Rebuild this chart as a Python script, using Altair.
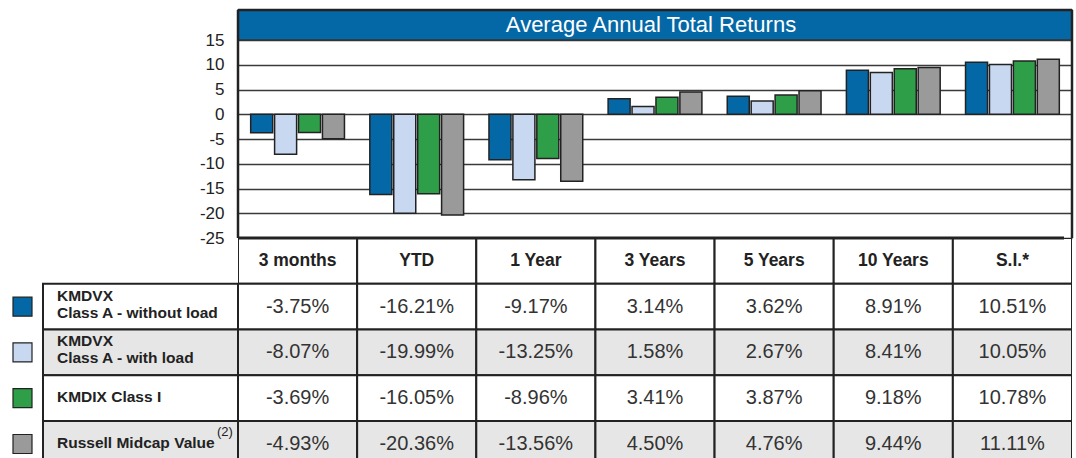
import altair as alt
import pandas as pd

# ---------------- data ----------------
categories = ["3 months", "YTD", "1 Year", "3 Years", "5 Years", "10 Years", "S.I.*"]
series = ["KMDVX Class A - without load", "KMDVX Class A - with load",
          "KMDIX Class I", "Russell Midcap Value"]
series_labels = ["KMDVX\nClass A - without load", "KMDVX\nClass A - with load",
                 "KMDIX Class I", "Russell Midcap Value"]
series_notes = ["", "", "", "(2)"]
without_load = [-3.75, -16.21, -9.17, 3.14, 3.62, 8.91, 10.51]
with_load = [-8.07, -19.99, -13.25, 1.58, 2.67, 8.41, 10.05]
class_i = [-3.69, -16.05, -8.96, 3.41, 3.87, 9.18, 10.78]
russell = [-4.93, -20.36, -13.56, 4.50, 4.76, 9.44, 11.11]
y_ticks = [15, 10, 5, 0, -5, -10, -15, -20, -25]
title_text = "Average Annual Total Returns"
colors = ["#0568A6", "#C8D8F1", "#2F9E48", "#9A9A9A"]

# ---------------- layout constants ----------------
FONT = "Liberation Sans"
PLOT_W = 834
BAR_H = 228
TITLE_H = 30
LABEL_W = 238
TABLE_H = 222
Y_MIN, Y_MAX_TICK = -25, 15
px_per_unit = (BAR_H - TITLE_H) / (Y_MAX_TICK - Y_MIN)
Y_TOP = Y_MAX_TICK + TITLE_H / px_per_unit
DARK = "#222222"

values = [without_load, with_load, class_i, russell]
bars_df = pd.DataFrame(
    [{"cat": c, "series": s, "value": v}
     for s, vals in zip(series, values) for c, v in zip(categories, vals)]
)
cells = [{"cat": c, "r": 0, "text": c} for c in categories]
for i, vals in enumerate(values):
    for c, v in zip(categories, vals):
        cells.append({"cat": c, "r": i + 1, "text": f"{v:.2f}%"})
cells_df = pd.DataFrame(cells)
labels_df = pd.DataFrame(
    [{"series": s, "label": l, "note": n, "r": i + 1}
     for i, (s, l, n) in enumerate(zip(series, series_labels, series_notes))]
)
title_df = pd.DataFrame({"t": [title_text]})

color_scale = alt.Scale(domain=series, range=colors)
x_band = alt.X("cat:N", sort=categories, scale=alt.Scale(paddingInner=0, paddingOuter=0), axis=None)
row_scale = alt.Scale(domain=[0, 4.85], reverse=True, nice=False, zero=False)
gray_row = alt.condition("datum.r == 2 || datum.r == 4", alt.value("#E6E6E6"), alt.value("#FFFFFF"))

# ---------------- top-left blank ----------------
blank = alt.Chart(pd.DataFrame({"t": [""]})).mark_text().encode(text="t:N").properties(
    width=LABEL_W, height=BAR_H)

# ---------------- bar chart ----------------
bars = alt.Chart(bars_df).mark_bar(stroke=DARK, strokeWidth=1.5).encode(
    x=x_band,
    xOffset=alt.XOffset("series:N", sort=series,
                        scale=alt.Scale(paddingInner=0.08, paddingOuter=0.53)),
    y=alt.Y("value:Q", stack=None,
            scale=alt.Scale(domain=[Y_MIN, Y_TOP], nice=False, zero=False),
            axis=alt.Axis(values=y_ticks, grid=True, gridColor="#3a3a3a", gridWidth=1.5,
                          domain=False, ticks=False, labelExpr="'' + datum.value",
                          labelFontSize=17, labelColor=DARK, labelPadding=14,
                          labelFont=FONT, title=None)),
    y2=alt.datum(0),
    color=alt.Color("series:N", scale=color_scale, legend=None),
)
title_bar = alt.Chart(title_df).mark_rect(fill="#0568A6", stroke="#333333", strokeWidth=1.5).encode(
    x=alt.value(0), x2=alt.value(PLOT_W), y=alt.value(0), y2=alt.value(TITLE_H))
title_txt = alt.Chart(title_df).mark_text(color="white", fontSize=22, font=FONT,
                                          baseline="middle", align="center").encode(
    x=alt.value(PLOT_W / 2 - 4), y=alt.value(TITLE_H / 2), text="t:N")
border_l = alt.Chart(title_df).mark_rule(color=DARK, strokeWidth=2.5).encode(
    x=alt.value(0), y=alt.value(0), y2=alt.value(BAR_H))
border_r = alt.Chart(title_df).mark_rule(color=DARK, strokeWidth=2.5).encode(
    x=alt.value(PLOT_W), y=alt.value(0), y2=alt.value(BAR_H))
border_t = alt.Chart(title_df).mark_rule(color=DARK, strokeWidth=2.5).encode(
    x=alt.value(0), x2=alt.value(PLOT_W), y=alt.value(0))
bar_chart = alt.layer(bars, title_bar, title_txt, border_l, border_r, border_t).properties(
    width=PLOT_W, height=BAR_H)

# ---------------- label column ----------------
lab_base = alt.Chart(labels_df).transform_calculate(r2="datum.r + 1", rm="datum.r + 0.5")
lab_rect = lab_base.mark_rect(stroke=DARK, strokeWidth=2, clip=True).encode(
    x=alt.value(43), x2=alt.value(LABEL_W),
    y=alt.Y("r:Q", scale=row_scale, axis=None), y2="r2:Q", fill=gray_row)
lab_sq = lab_base.mark_square(size=361, stroke=DARK, strokeWidth=1.2, opacity=1).encode(
    x=alt.value(22.5), y=alt.Y("rm:Q", scale=row_scale, axis=None),
    color=alt.Color("series:N", scale=color_scale, legend=None))
txt_style = dict(align="left", baseline="middle", lineBreak="\n", fontWeight="bold",
                 fontSize=15.5, lineHeight=17, font=FONT, color=DARK)
lab_txt2 = lab_base.transform_filter("indexof(datum.label, '\\n') >= 0").mark_text(
    dy=-11, **txt_style).encode(
    x=alt.value(57), y=alt.Y("rm:Q", scale=row_scale, axis=None), text="label:N")
lab_txt1 = lab_base.transform_filter("indexof(datum.label, '\\n') < 0").mark_text(
    dy=-1, **txt_style).encode(
    x=alt.value(57), y=alt.Y("rm:Q", scale=row_scale, axis=None), text="label:N")
lab_note = lab_base.transform_filter("datum.note != ''").mark_text(
    align="left", baseline="middle", fontSize=13, font=FONT, color=DARK, dy=-12).encode(
    x=alt.value(217), y=alt.Y("rm:Q", scale=row_scale, axis=None), text="note:N")
label_chart = alt.layer(lab_rect, lab_sq, lab_txt2, lab_txt1, lab_note).properties(
    width=LABEL_W, height=TABLE_H)

# ---------------- table ----------------
cell_base = alt.Chart(cells_df).transform_calculate(r2="datum.r + 1", rm="datum.r + 0.5")
cell_rect = cell_base.mark_rect(stroke=DARK, strokeWidth=2, clip=True).encode(
    x=x_band, y=alt.Y("r:Q", scale=row_scale, axis=None), y2="r2:Q", fill=gray_row)
head_txt = cell_base.transform_filter("datum.r == 0").mark_text(
    fontSize=17.5, fontWeight="bold", font=FONT, color=DARK, baseline="middle").encode(
    x=x_band, y=alt.Y("rm:Q", scale=row_scale, axis=None), text="text:N")
val_txt = cell_base.transform_filter("datum.r > 0").mark_text(
    fontSize=20, font=FONT, color="#333333", baseline="middle").encode(
    x=x_band, y=alt.Y("rm:Q", scale=row_scale, axis=None), text="text:N")
top_rule = alt.Chart(title_df).mark_rule(color=DARK, strokeWidth=3).encode(
    x=alt.value(0), x2=alt.value(PLOT_W - 8), y=alt.value(0))
table_chart = alt.layer(cell_rect, head_txt, val_txt, top_rule).properties(width=PLOT_W, height=TABLE_H)

chart = alt.concat(blank, bar_chart, label_chart, table_chart, columns=2, spacing=0,
                   bounds="flush").resolve_scale(
    x="independent", y="independent", color="independent").properties(
    padding={"left": 0, "top": 8, "right": 0, "bottom": 0}).configure(
    font=FONT).configure_view(stroke=None)

chart.save("out.html", embed_options={"renderer": "svg", "actions": False})
